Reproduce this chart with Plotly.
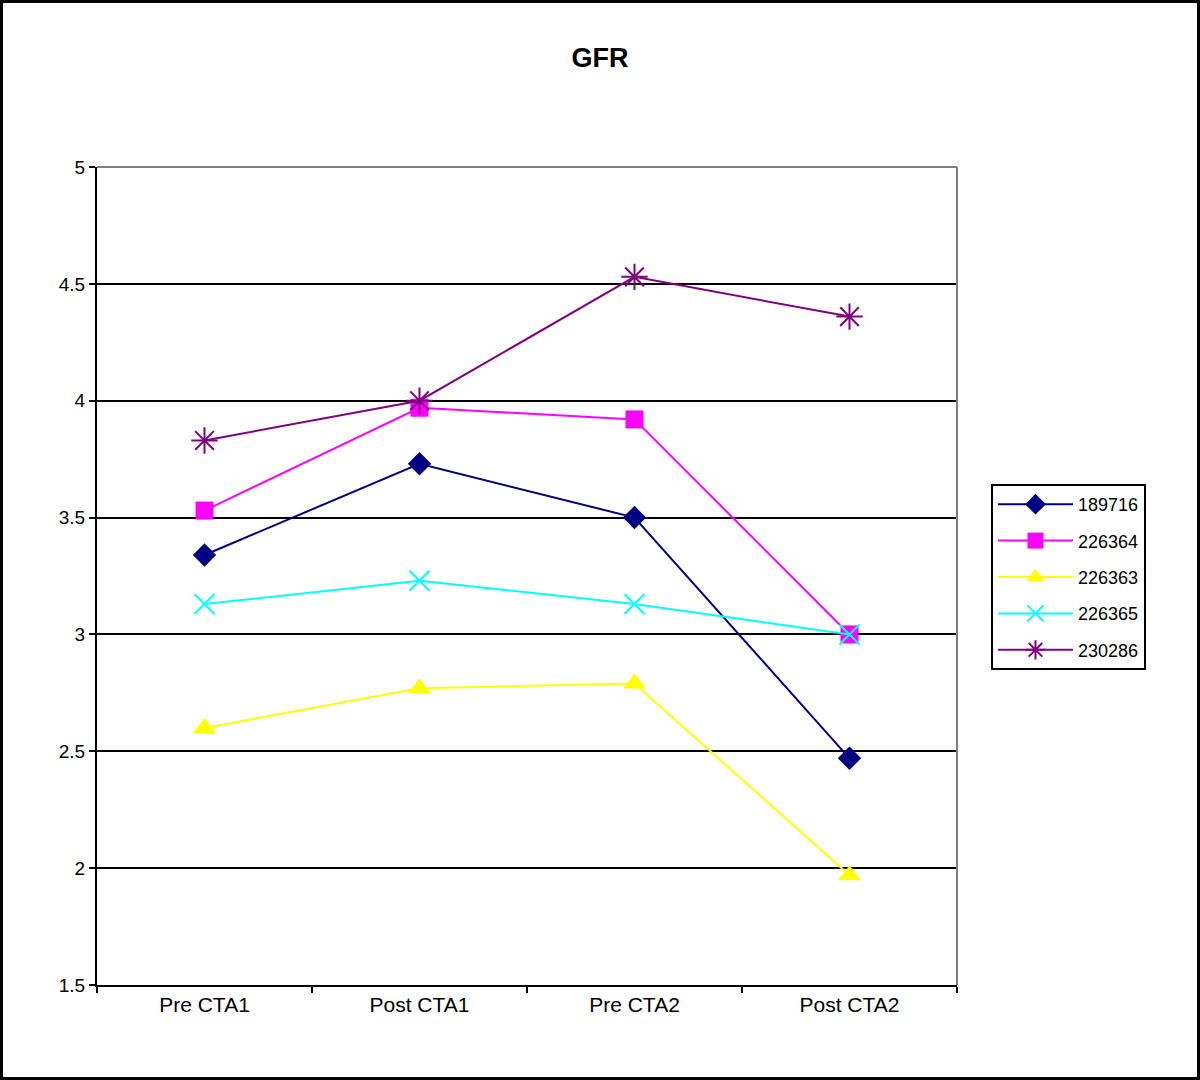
import plotly.graph_objects as go

categories = ["Pre CTA1", "Post CTA1", "Pre CTA2", "Post CTA2"]
s189716 = [3.34, 3.73, 3.50, 2.47]
s226364 = [3.53, 3.97, 3.92, 3.00]
s226363 = [2.60, 2.77, 2.79, 1.97]
s226365 = [3.13, 3.23, 3.13, 3.00]
s230286 = [3.83, 4.00, 4.53, 4.36]

series = [
    ("189716", s189716, "#000080", "diamond", 18, 0),
    ("226364", s226364, "#FF00FF", "square", 18, 0),
    ("226363", s226363, "#FFFF00", "triangle-up", 20, 0),
    ("226365", s226365, "#00FFFF", "x-thin-open", 20, 2),
    ("230286", s230286, "#800080", "asterisk-open", 22, 2),
]

fig = go.Figure()
for name, vals, col, sym, size, lw in series:
    fig.add_trace(go.Scatter(
        x=categories, y=vals, name=name, mode="lines+markers", legendgroup=name,
        line=dict(color=col, width=2),
        marker=dict(symbol=sym, size=size, color=col,
                    line=dict(color=col, width=lw)),
    ))

W, H = 1200, 1080
L, R, T, B = 97, 243, 167, 95
pw, ph = W - L - R, H - T - B

fig.update_layout(
    width=W, height=H,
    margin=dict(l=L, r=R, t=T, b=B),
    paper_bgcolor="white", plot_bgcolor="white",
    font=dict(family="Liberation Sans, Arial, sans-serif", size=19, color="black"),
    title=dict(text="<b>GFR</b>", x=0.5, xref="container", y=1 - 58 / H, yanchor="middle",
               font=dict(size=27, color="black")),
    showlegend=True,
    legend=dict(x=(991 - L) / pw, xanchor="left", y=(H - B - 577) / ph, yanchor="middle",
                bordercolor="black", borderwidth=2, bgcolor="white",
                font=dict(size=18), tracegroupgap=10, itemwidth=75),
    xaxis=dict(type="category", showgrid=False, showline=True, linecolor="black", linewidth=2,
               ticks="outside", tickson="boundaries", ticklen=6, tickcolor="black", tickwidth=2,
               range=[-0.5, 3.5], zeroline=False, tickfont=dict(size=21)),
    yaxis=dict(range=[1.5, 5], dtick=0.5, tick0=1.5, showgrid=True, gridcolor="black", gridwidth=2,
               showline=True, linecolor="black", linewidth=2, ticks="outside", ticklen=6,
               tickcolor="black", tickwidth=2, zeroline=False),
    shapes=[
        dict(type="line", xref="paper", yref="paper", x0=0, x1=1, y0=1, y1=1,
             line=dict(color="#808080", width=2), layer="above"),
        dict(type="line", xref="paper", yref="paper", x0=1, x1=1, y0=0, y1=1,
             line=dict(color="#808080", width=2), layer="above"),
        dict(type="rect", xref="paper", yref="paper",
             x0=-(L - 1.5) / pw, x1=(W - L - 1.5) / pw,
             y0=-(B - 1.5) / ph, y1=(H - B - 1.5) / ph,
             line=dict(color="black", width=3), layer="above"),
    ],
)

fig.write_html("out.html", config={"displayModeBar": False},
               post_script="document.body.style.margin='0';")
